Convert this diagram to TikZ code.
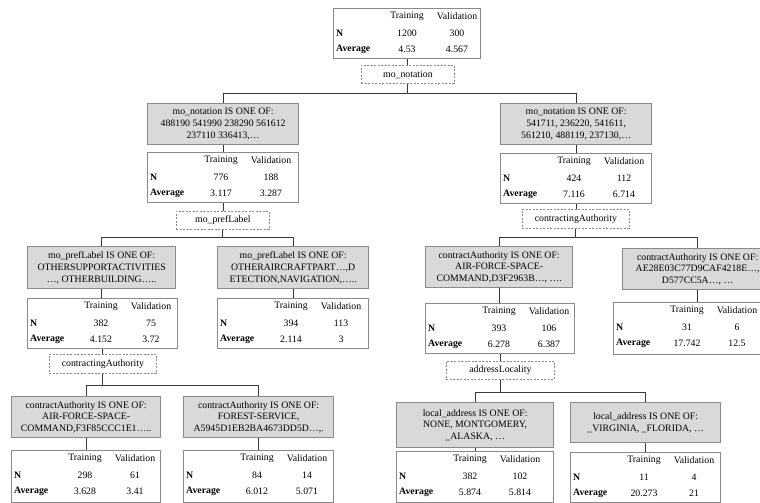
\documentclass[tikz,border=0pt]{standalone}
\usepackage{fontspec}
\setmainfont{Liberation Serif}
\usetikzlibrary{calc}
\definecolor{boxfill}{HTML}{D9D9D9}
\definecolor{boxline}{HTML}{8A8A8A}
\definecolor{wireclr}{HTML}{3A3A3A}
\tikzset{
  every node/.style={font=\fontsize{9.8}{11.7}\selectfont},
  graybox/.style={draw=boxline, line width=1.3pt, fill=boxfill, align=center, inner sep=1pt, anchor=north west},
  statbox/.style={draw=boxline, line width=1.3pt, fill=white, inner sep=0pt, anchor=north west},
  splitbox/.style={draw=boxline, dash pattern=on 2pt off 1.5pt, line width=0.8pt, inner sep=0pt, anchor=north west},
  celltxt/.style={inner sep=0pt},
  wire/.style={draw=wireclr, line width=0.9pt},
}
\newcommand\statsbox[9]{%
  \node[statbox, minimum width=#4pt, minimum height=#5pt] (#1) at (#2,#3) {};
  \node[celltxt] (#1-th) at ([xshift=74pt,yshift=-8pt]#1.north west) {Training};
  \node[celltxt] (#1-vh) at ([xshift=124pt,yshift=-8pt]#1.north west) {Validation};
  \node[celltxt, anchor=west] (#1-nl) at ([xshift=3pt,yshift=-25pt]#1.north west) {\bfseries N};
  \node[celltxt] (#1-nt) at ([xshift=74pt,yshift=-25pt]#1.north west) {#6};
  \node[celltxt] (#1-nv) at ([xshift=124pt,yshift=-25pt]#1.north west) {#7};
  \node[celltxt, anchor=west] (#1-al) at ([xshift=3pt,yshift=-41pt]#1.north west) {\bfseries Average};
  \node[celltxt] (#1-at) at ([xshift=74pt,yshift=-41pt]#1.north west) {#8};
  \node[celltxt] (#1-av) at ([xshift=124pt,yshift=-41pt]#1.north west) {#9};
}
\begin{document}
\begin{tikzpicture}[x=1pt,y=-1pt]
\useasboundingbox (0,0) rectangle (760,503);
% root
\statsbox{s0}{333}{8}{147}{50}{1200}{300}{4.53}{4.567}
\node[splitbox, minimum width=93pt, minimum height=18pt] (sp0) at (361,65) {mo\_notation};
% level 1
\node[graybox, minimum width=151pt, minimum height=41pt] (g1l) at (147,103) {mo\_notation IS ONE OF:\\488190 541990 238290 561612\\237110 336413,…};
\statsbox{s1l}{147}{152}{151}{50}{776}{188}{3.117}{3.287}
\node[splitbox, minimum width=93pt, minimum height=18pt] (sp1l) at (176,211) {mo\_prefLabel};
\node[graybox, minimum width=151pt, minimum height=41pt] (g1r) at (500,103) {mo\_notation IS ONE OF:\\541711, 236220, 541611,\\561210, 488119, 237130,…};
\statsbox{s1r}{500}{153}{151}{50}{424}{112}{7.116}{6.714}
\node[splitbox, minimum width=107pt, minimum height=19pt] (sp1r) at (522,209) {contractingAuthority};
% level 2
\node[graybox, minimum width=148pt, minimum height=42pt] (g2ll) at (27,246) {mo\_prefLabel IS ONE OF:\\OTHERSUPPORTACTIVITIES\\…, OTHERBUILDING…..};
\statsbox{s2ll}{27}{298}{150}{50}{382}{75}{4.152}{3.72}
\node[splitbox, minimum width=107pt, minimum height=19pt] (sp2ll) at (49,354) {contractingAuthority};
\node[graybox, minimum width=151pt, minimum height=42pt] (g2lr) at (217,246) {mo\_prefLabel IS ONE OF:\\OTHERAIRCRAFTPART…,D\\ETECTION,NAVIGATION,…..};
\statsbox{s2lr}{217}{298}{151}{50}{394}{113}{2.114}{3}
\node[graybox, minimum width=147pt, minimum height=41pt] (g2rl) at (425,246) {contractAuthority IS ONE OF:\\AIR-FORCE-SPACE-\\COMMAND,D3F2963B…, ….};
\statsbox{s2rl}{425}{303}{149}{50}{393}{106}{6.278}{6.387}
\node[splitbox, minimum width=108pt, minimum height=18pt] (sp2rl) at (446,361) {addressLocality};
\node[graybox, minimum width=150pt, minimum height=41pt] (g2rr) at (622,248) {contractAuthority IS ONE OF:\\AE28E03C77D9CAF4218E…,\\D577CC5A…, …};
\statsbox{s2rr}{613}{302}{168}{52}{31}{6}{17.742}{12.5}
% level 3
\node[graybox, minimum width=149pt, minimum height=41pt] (g3ll) at (11,396) {contractAuthority IS ONE OF:\\AIR-FORCE-SPACE-\\COMMAND,F3F85CCC1E1…..};
\statsbox{s3ll}{11}{450}{149}{52}{298}{61}{3.628}{3.41}
\node[graybox, minimum width=150pt, minimum height=41pt] (g3lr) at (183,396) {contractAuthority IS ONE OF:\\FOREST-SERVICE,\\A5945D1EB2BA4673DD5D…,.};
\statsbox{s3lr}{183}{450}{150}{52}{84}{14}{6.012}{5.071}
\node[graybox, minimum width=157pt, minimum height=45pt] (g3rl) at (396,402) {local\_address IS ONE OF:\\NONE, MONTGOMERY,\\\_ALASKA, …};
\statsbox{s3rl}{396}{451}{157}{51}{382}{102}{5.874}{5.814}
\node[graybox, minimum width=150pt, minimum height=40pt] (g3rr) at (570,402) {local\_address IS ONE OF:\\\_VIRGINIA, \_FLORIDA, …};
\statsbox{s3rr}{570}{452}{150}{50}{11}{4}{20.273}{21}
% junction levels
\coordinate (h0) at (0,93);
\coordinate (h1) at (0,237);
\coordinate (h2l) at (0,385);
\coordinate (h2r) at (0,392);
% connectors
\draw[wire] (s0.south) -- (s0.south |- sp0.north);
\draw[wire] (sp0.south) -- (sp0.south |- h0) -| (g1l.north);
\draw[wire] (sp0.south |- h0) -| (g1r.north);
\draw[wire] (g1l.south) -- (g1l.south |- s1l.north);
\draw[wire] (s1l.south) -- (s1l.south |- sp1l.north);
\draw[wire] (sp1l.south) -- (sp1l.south |- h1) -| (g2ll.north);
\draw[wire] (sp1l.south |- h1) -| (g2lr.north);
\draw[wire] (g1r.south) -- (g1r.south |- s1r.north);
\draw[wire] (s1r.south) -- (s1r.south |- sp1r.north);
\draw[wire] (sp1r.south) -- (sp1r.south |- h1) -| (g2rl.north);
\draw[wire] (sp1r.south |- h1) -| (g2rr.north);
\draw[wire] (g2ll.south) -- (g2ll.south |- s2ll.north);
\draw[wire] (s2ll.south) -- (s2ll.south |- sp2ll.north);
\draw[wire] (sp2ll.south) -- (sp2ll.south |- h2l) -| (g3ll.north);
\draw[wire] (sp2ll.south |- h2l) -| (g3lr.north);
\draw[wire] (g2lr.south) -- (g2lr.south |- s2lr.north);
\draw[wire] (g2rl.south) -- (g2rl.south |- s2rl.north);
\draw[wire] (s2rl.south) -- (s2rl.south |- sp2rl.north);
\draw[wire] (sp2rl.south) -- (sp2rl.south |- h2r) -| (g3rl.north);
\draw[wire] (sp2rl.south |- h2r) -| (g3rr.north);
\draw[wire] (g2rr.south) -- (g2rr.south |- s2rr.north);
\draw[wire] (g3ll.south) -- (g3ll.south |- s3ll.north);
\draw[wire] (g3lr.south) -- (g3lr.south |- s3lr.north);
\draw[wire] (g3rl.south) -- (g3rl.south |- s3rl.north);
\draw[wire] (g3rr.south) -- (g3rr.south |- s3rr.north);
\end{tikzpicture}
\end{document}
